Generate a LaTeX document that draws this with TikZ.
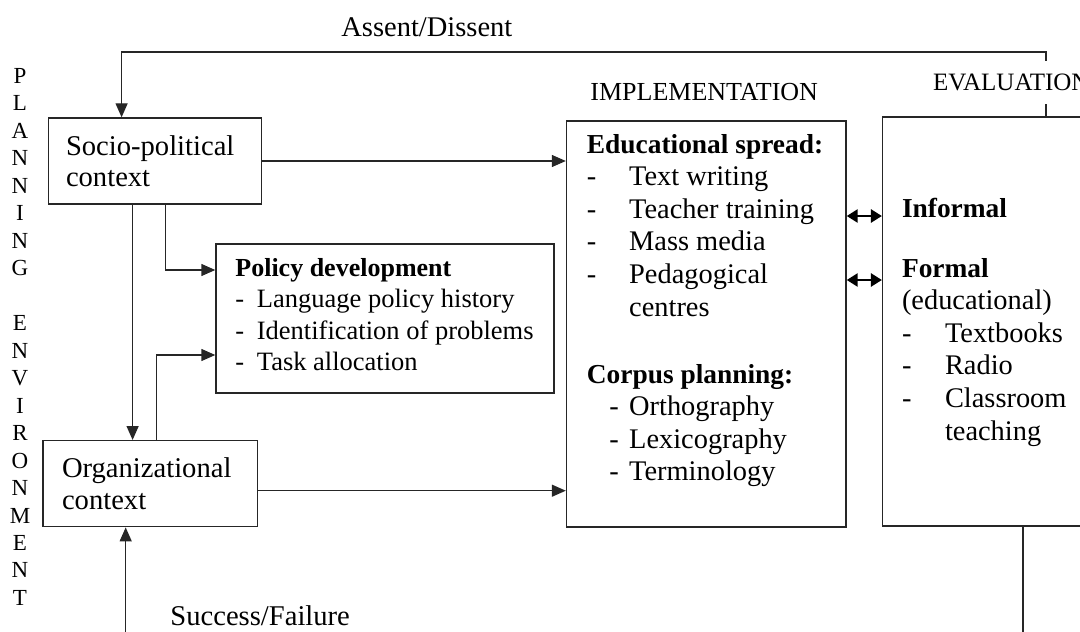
\documentclass[tikz,border=0pt]{standalone}
\usepackage{fontspec}
\setmainfont{Liberation Serif}
\usetikzlibrary{arrows.meta}
\tikzset{
    box/.style={draw=black!85, line width=0.7pt, inner sep=0pt},
    ctxbox/.style={box, align=left, inner xsep=#1,
        font=\fontsize{14.3}{15.75}\selectfont},
    txt/.style={anchor=base west, inner sep=0pt},
    letter/.style={inner sep=0pt, font=\fontsize{11.5}{12}\selectfont},
    ln/.style={draw=black!85, line width=0.7pt},
    arr/.style={ln, -{Triangle[length=7pt,width=6pt]}},
    dblarr/.style={draw=black, line width=1.3pt,
        {Triangle[length=5.5pt,width=6.5pt]}-{Triangle[length=5.5pt,width=6.5pt]}}
}
\newcommand{\dashit}[3]{\hspace*{#1}\makebox[\dimexpr#2-#1\relax][l]{-}#3}

\begin{document}
\begin{tikzpicture}[x=0.5pt, y=-0.5pt]
  \clip (0,0) rectangle (1080,631);

  \node[ctxbox=8.75pt, text width=89.1pt, minimum height=43pt] (socio) at (155.1,161) {Socio-political\\context};
  \node[ctxbox=9.5pt, text width=88.3pt, minimum height=43pt] (org) at (150.3,483.7) {Organizational\\context};
  \node[box, minimum width=169pt, minimum height=74.5pt] (policy) at (385,318.5) {};
  \node[box, minimum width=139.75pt, minimum height=203pt] (impl) at (706.25,324) {};
  \node[box, minimum width=113.7pt, minimum height=204.5pt] (eval) at (996.3,321.5) {};

  \node[txt, font=\fontsize{13.25}{15.75}\selectfont] (policytxt) at (235,276) {\begin{tabular}[t]{@{}l@{}}
    {\fontsize{13}{15.75}\selectfont\bfseries Policy development}\\
    \dashit{0pt}{10.75pt}{Language policy history}\\
    \dashit{0pt}{10.75pt}{Identification of problems}\\
    \dashit{0pt}{10.75pt}{Task allocation}
  \end{tabular}};
  \node[txt, font=\fontsize{14.2}{16.3}\selectfont] (impltxt) at (586.5,153) {\begin{tabular}[t]{@{}l@{}}
    {\fontsize{13.7}{16.3}\selectfont\bfseries Educational spread:}\\
    \dashit{0pt}{21.15pt}{Text writing}\\
    \dashit{0pt}{21.15pt}{Teacher training}\\
    \dashit{0pt}{21.15pt}{Mass media}\\
    \dashit{0pt}{21.15pt}{Pedagogical}\\
    \hspace*{21.15pt}centres\\[17.2pt]
    {\fontsize{13.7}{16.3}\selectfont\bfseries Corpus planning:}\\
    \dashit{11.2pt}{21.15pt}{Orthography}\\
    \dashit{11.2pt}{21.15pt}{Lexicography}\\
    \dashit{11.2pt}{21.15pt}{Terminology}
  \end{tabular}};
  \node[txt, font=\fontsize{14.2}{16.3}\selectfont] (evaltxt) at (901.6,217) {\begin{tabular}[t]{@{}l@{}}
    {\fontsize{13.7}{16.3}\selectfont\bfseries Informal}\\[13.7pt]
    {\fontsize{13.7}{16.3}\selectfont\bfseries Formal}\\
    (educational)\\
    \dashit{0pt}{21.5pt}{Textbooks}\\
    \dashit{0pt}{21.5pt}{Radio}\\
    \dashit{0pt}{21.5pt}{Classroom}\\
    \hspace*{21.5pt}teaching
  \end{tabular}};

  \node[txt, font=\fontsize{14.25}{16}\selectfont] (assent) at (341,37) {Assent/Dissent};
  \node[txt, font=\fontsize{14.3}{16}\selectfont] (success) at (170,625) {Success/Failure};
  \node[txt, font=\fontsize{13}{15}\selectfont] (impllab) at (590,100.5) {IMPLEMENTATION};
  \node[txt, inner ysep=6.5pt, font=\fontsize{12.5}{14}\selectfont] (evlab) at (932.6,90.7) {EVALUATION};

  \foreach \ch [count=\i from 0] in {P,L,A,N,N,I,N,G,{},E,N,V,I,R,O,N,M,E,N,T}
    \node[letter] (pe\i) at (20,76+27.47*\i) {\ch};

  \coordinate (fbx) at (1046,52);
  \coordinate (s1) at ([xshift=-11.25pt]socio.south);
  \coordinate (o1) at ([yshift=-3.5pt]org.east);
  \coordinate (d1) at ([yshift=54pt]impl.east);
  \coordinate (d2) at ([yshift=22pt]impl.east);
  \coordinate (sf) at (125.7,640);
  \coordinate (ev) at (1022.8,640);

  \draw[ln] (eval.north -| fbx) -- (evlab.south -| fbx);
  \draw[arr] (evlab.north -| fbx) -- (fbx) -| ([xshift=-16.75pt]socio.north);
  \draw[arr] (socio.east) -- (socio.east -| impl.west);
  \draw[arr] (s1) -- (s1 |- org.north);
  \draw[arr] ([xshift=5.25pt]socio.south) |- ([yshift=24.25pt]policy.west);
  \draw[arr] ([xshift=3.2pt]org.north) |- ([yshift=-18.25pt]policy.west);
  \draw[arr] (o1) -- (o1 -| impl.west);
  \draw[arr] (sf) -- (sf |- org.south);
  \draw[dblarr] (d1) -- (d1 -| eval.west);
  \draw[dblarr] (d2) -- (d2 -| eval.west);
  \draw[ln] (eval.south -| ev) -- (ev);

\end{tikzpicture}
\end{document}
